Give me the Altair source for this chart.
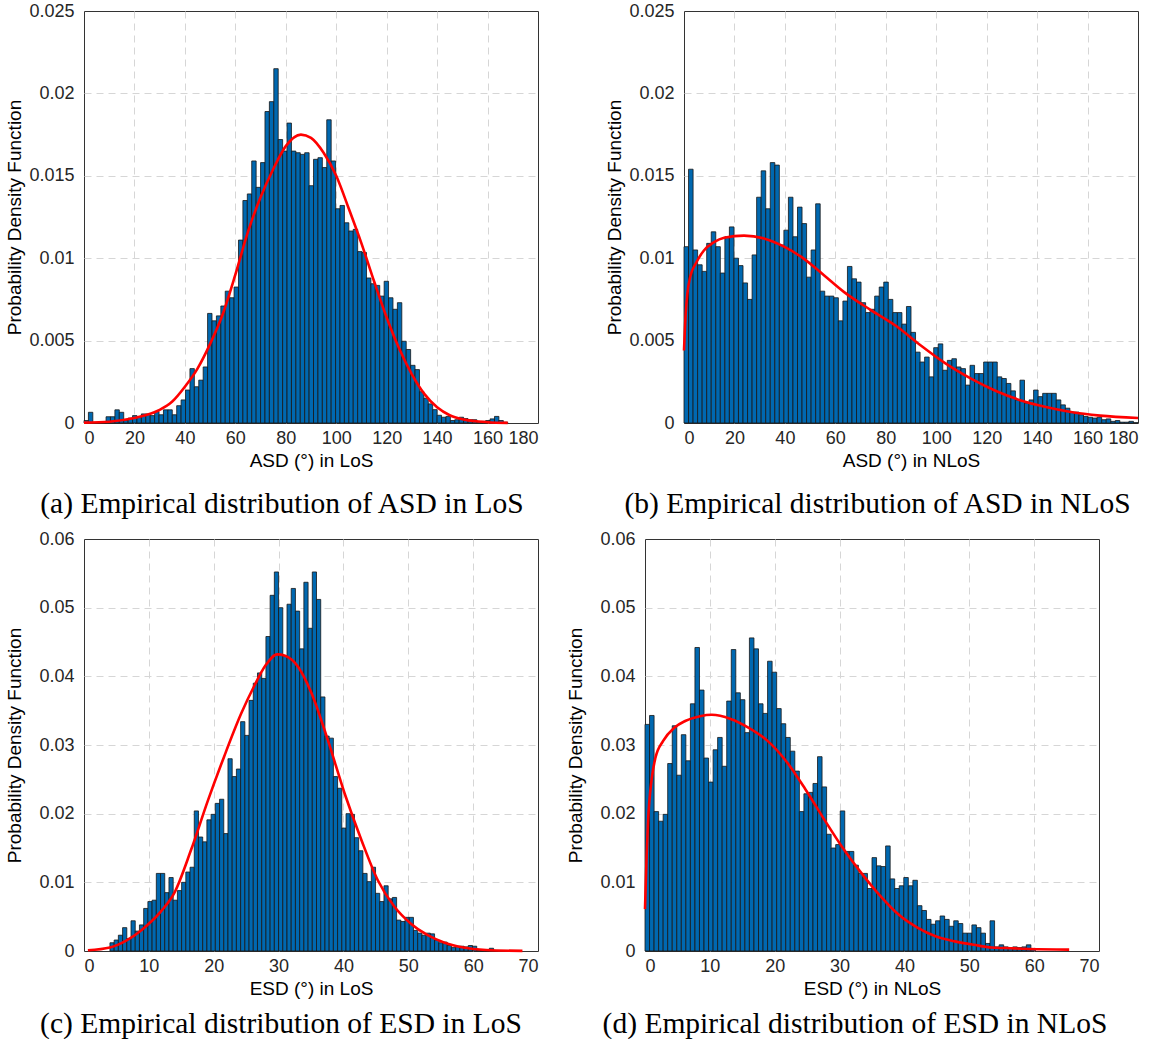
import altair as alt
import pandas as pd

# ---------------- data (pdf values are in units of 1e-3) ----------------
# (a) ASD in LoS : bins of equal width starting at A_START
A_START, A_WIDTH = 0.0, 1.75
A_PDF = [0.15, 0.65, 0, 0, 0, 0.38, 0.38, 0.8, 0.65, 0.15,
         0.3, 0.45, 0.35, 0.55, 0.55, 0.45, 0.7, 0.5, 0.8, 0.8,
         0.5, 1.05, 1.4, 2.0, 3.3, 2.2, 2.6, 3.4, 6.65, 6.2,
         6.5, 7.1, 8.0, 7.6, 8.25, 11.1, 13.5, 13.9, 15.9, 14.3,
         15.8, 18.9, 19.5, 21.5, 17.2, 16.5, 18.2, 16.5, 16.4, 16.3,
         16.4, 14.4, 16.0, 16.1, 15.5, 18.4, 15.9, 13.0, 13.2, 12.15,
         11.65, 11.75, 10.4, 10.35, 8.8, 8.45, 8.35, 7.7, 8.6, 7.6,
         6.9, 7.3, 4.96, 4.46, 3.5, 3.24, 1.9, 1.5, 1.16, 0.81,
         0.47, 0.35, 0.4, 0.15, 0.2, 0.35, 0.27, 0.2, 0.2, 0.05,
         0.1, 0.15, 0.25, 0.4, 0.15, 0.05]
A_FIT_X = [0, 10, 20, 25, 30, 35, 40, 45, 50, 55, 60, 65, 70, 75, 80, 86, 90,
           95, 100, 105, 110, 115, 120, 125, 130, 135, 140, 145, 150, 160, 168]
A_FIT_Y = [0.02, 0.08, 0.3, 0.5, 0.8, 1.3, 2.2, 3.3, 4.8, 6.6, 9.0, 11.6, 13.7,
           15.4, 16.8, 17.5, 17.3, 16.4, 15.0, 13.0, 10.9, 8.6, 6.4, 4.5, 2.95,
           1.75, 0.95, 0.47, 0.23, 0.05, 0.01]

# (b) ASD in NLoS
B_START, B_WIDTH = 0.0, 1.8
B_PDF = [10.7, 15.4, 10.5, 9.6, 9.2, 10.9, 11.6, 10.7, 9.1, 11.3,
         11.9, 10.0, 9.55, 8.5, 7.5, 10.2, 13.7, 15.3, 13.0, 15.8,
         15.65, 10.8, 11.7, 13.7, 11.3, 13.1, 12.1, 8.85, 10.5, 13.3,
         8.0, 7.7, 7.7, 7.6, 6.2, 7.4, 9.5, 8.75, 8.55, 7.3,
         6.7, 6.9, 7.7, 8.25, 8.55, 7.5, 6.7, 6.7, 6.0, 7.07,
         5.5, 4.3, 3.7, 4.0, 2.8, 4.57, 4.8, 3.2, 3.8, 3.9,
         3.4, 3.3, 2.3, 3.5, 3.0, 3.0, 3.7, 3.7, 3.7, 2.8,
         2.7, 2.4, 1.95, 1.4, 2.6, 1.2, 1.4, 2.0, 1.6, 1.8,
         1.8, 1.8, 1.4, 1.1, 0.9, 0.66, 0.66, 0.5, 0.4, 0.35,
         0.3, 0.35, 0.2, 0.25, 0.1, 0.15, 0.05, 0.05, 0.1, 0.02]
B_FIT_X = [0, 0.66, 1.3, 2.6, 4.6, 7.9, 11.9, 15.9, 23.8, 31.7, 39.7, 47.6,
           55.6, 63.5, 74.1, 84, 93.9, 103.8, 113.8, 123.7, 133.6, 143.5,
           153.4, 165, 180]
B_FIT_Y = [4.4, 6.6, 7.8, 8.95, 9.66, 10.47, 10.97, 11.24, 11.37, 11.2, 10.7,
           9.96, 8.95, 7.94, 6.85, 5.9, 4.7, 3.6, 2.69, 1.94, 1.37, 0.97, 0.67,
           0.45, 0.3]

# (c) ESD in LoS
C_START, C_WIDTH = 4.0, 0.65
C_PDF = [1.2, 1.6, 2.3, 3.4, 1.8, 4.4, 2.9, 3.8, 6.2, 7.2,
         7.4, 11.3, 11.3, 8.5, 10.7, 7.4, 8.8, 10.0, 11.5, 12.2,
         20.4, 16.6, 15.9, 19.1, 19.9, 21.5, 22.1, 17.1, 28.0, 25.4,
         26.5, 33.4, 31.4, 36.5, 39.0, 40.5, 39.7, 45.8, 51.8, 55.2,
         50.0, 43.0, 50.5, 52.8, 49.5, 44.0, 53.7, 47.0, 55.2, 51.2,
         37.0, 31.3, 31.0, 25.4, 23.7, 17.9, 20.0, 19.9, 16.5, 14.6,
         11.3, 10.1, 12.2, 8.4, 7.2, 9.5, 7.6, 7.8, 4.5, 4.3,
         4.9, 4.9, 3.0, 2.6, 2.3, 2.6, 2.5, 1.6, 1.2, 1.3,
         0.8, 0.5, 0.7, 0.7, 0.6, 0.8, 0.7, 0.1, 0.05, 0.0,
         0.4, 0.0]
C_FIT_X = [0.6, 4.0, 6.5, 8.8, 11.9, 13.95, 16.5, 19.1, 21.6, 24.2, 26.3, 28.0,
           29.8, 31.0, 33.0, 35.1, 37.6, 40.2, 42.8, 45.3, 47.9, 50.4, 53.0,
           55.6, 58.5, 62.0, 67.6]
C_FIT_Y = [0.1, 0.5, 1.5, 3.0, 5.8, 8.5, 14.7, 21.9, 28.3, 34.5, 38.7, 41.6,
           43.2, 43.0, 41.4, 37.5, 30.7, 22.9, 16.1, 10.3, 6.4, 3.98, 2.3, 1.2,
           0.5, 0.15, 0.02]

# (d) ESD in NLoS
D_START, D_WIDTH = 0.0, 0.7
D_PDF = [33.0, 34.3, 20.3, 18.9, 19.9, 27.3, 32.8, 25.6, 31.5, 27.7,
         36.0, 44.2, 38.0, 28.1, 24.6, 29.3, 31.1, 26.9, 36.4, 43.9,
         37.6, 36.6, 31.8, 45.6, 44.0, 36.0, 34.6, 42.2, 40.6, 35.3,
         33.1, 31.1, 29.1, 26.2, 20.3, 22.9, 23.1, 24.4, 28.3, 23.9,
         17.0, 15.0, 15.5, 20.4, 14.5, 14.5, 12.5, 11.3, 11.3, 9.1,
         13.6, 12.4, 12.3, 15.3, 10.5, 9.1, 9.5, 10.7, 9.5, 10.3,
         6.6, 5.9, 4.6, 3.9, 4.4, 5.1, 4.6, 3.6, 4.4, 4.0,
         2.6, 2.6, 3.8, 3.4, 2.6, 1.1, 4.4, 0.6, 0.9, 0.6,
         0.4, 0.6, 0.5, 0.6, 0.9, 0.3]
D_FIT_X = [0, 0.23, 0.46, 1.04, 1.6, 2.8, 4.5, 6.2, 8.5, 10.3, 13.2, 16.0, 18.9,
           21.8, 24.7, 27.6, 30.5, 33.4, 36.2, 39.1, 42.0, 44.9, 47.8, 50.7,
           53.5, 56.4, 59.3, 65.4]
D_FIT_Y = [6.1, 13.3, 18.7, 25.1, 28.1, 30.6, 32.5, 33.5, 34.2, 34.4, 33.8,
           32.5, 30.6, 27.6, 23.6, 19.2, 15.0, 11.3, 8.1, 5.3, 3.4, 2.1, 1.4,
           0.9, 0.5, 0.4, 0.3, 0.2]

Y_TITLE = "Probability Density Function"
BAR_FILL = "#0068B0"
BAR_EDGE = "#161616"
FIT_RED = "#FF0000"
PW, PH = 454, 412


def panel(start, width, pdf, fx, fy, xmax, xstep, ymax, ystep, xtitle,
          caption, ytitle_pad, cap_offset, cap_dx):
    n = len(pdf)
    bars_df = pd.DataFrame({
        "lo": [start + width * i for i in range(n)],
        "hi": [start + width * (i + 1) for i in range(n)],
        "pdf": [v / 1000.0 for v in pdf],
        "base": [0.0] * n,
    })
    fit_df = pd.DataFrame({"lo": fx, "pdf": [v / 1000.0 for v in fy]})
    xs = alt.Scale(domain=[0, xmax], nice=False, zero=False)
    ys = alt.Scale(domain=[0, ymax], nice=False)
    n_y = int(round(ymax / ystep))
    x_edge = "datum.value <= 0 || datum.value >= %d" % xmax
    y_edge = "datum.value <= 0 || datum.value >= %g" % (ymax - ystep / 10)
    xaxis = alt.Axis(values=list(range(0, xmax + 1, xstep)), title=xtitle,
                     labelPadding=6, titlePadding=4,
                     gridOpacity=alt.condition(x_edge, alt.value(0), alt.value(1)))
    yaxis = alt.Axis(values=[round(ystep * i, 4) for i in range(n_y + 1)],
                     format="~g", title=Y_TITLE, labelPadding=10,
                     titlePadding=ytitle_pad,
                     gridOpacity=alt.condition(y_edge, alt.value(0), alt.value(1)))
    bars = alt.Chart(bars_df).mark_rect(
        fill=BAR_FILL, stroke=BAR_EDGE, strokeWidth=0.8
    ).encode(
        x=alt.X("lo:Q", scale=xs, axis=xaxis, title=xtitle),
        x2="hi:Q",
        y=alt.Y("pdf:Q", scale=ys, axis=yaxis, title=Y_TITLE),
        y2="base:Q",
    )
    fit = alt.Chart(fit_df).mark_line(
        color=FIT_RED, strokeWidth=2.6, interpolate="monotone"
    ).encode(
        x=alt.X("lo:Q", scale=xs, title=xtitle),
        y=alt.Y("pdf:Q", scale=ys, title=Y_TITLE),
    )
    return alt.layer(bars, fit).properties(
        width=PW, height=PH,
        title=alt.TitleParams(caption, orient="bottom", anchor="middle",
                              frame="bounds", font="Liberation Serif",
                              fontSize=29.5, fontWeight="normal", color="#000",
                              offset=cap_offset, dx=cap_dx),
    )


pa = panel(A_START, A_WIDTH, A_PDF, A_FIT_X, A_FIT_Y, 180, 20, 0.025, 0.005,
           "ASD (°) in LoS", "(a) Empirical distribution of ASD in LoS", 4, 20, 10)
pb = panel(B_START, B_WIDTH, B_PDF, B_FIT_X, B_FIT_Y, 180, 20, 0.025, 0.005,
           "ASD (°) in NLoS", "(b) Empirical distribution of ASD in NLoS", 4, 20, 3)
pc = panel(C_START, C_WIDTH, C_PDF, C_FIT_X, C_FIT_Y, 70, 10, 0.06, 0.01,
           "ESD (°) in LoS", "(c) Empirical distribution of ESD in LoS", 14, 12, 9)
pd_ = panel(D_START, D_WIDTH, D_PDF, D_FIT_X, D_FIT_Y, 70, 10, 0.06, 0.01,
            "ESD (°) in NLoS", "(d) Empirical distribution of ESD in NLoS", 14, 12, 22)

row1 = alt.hconcat(pa, pb, spacing=66)
row2 = alt.hconcat(pc, pd_, spacing=27)

chart = alt.vconcat(row1, row2, spacing=10).properties(
    padding={"left": 5, "top": 1, "right": 0, "bottom": 0},
    background="white",
).configure_view(
    stroke="#333333", strokeWidth=1
).configure_axis(
    grid=True, gridColor="#d6d6d6", gridDash=[7, 5], gridWidth=1,
    domain=False, ticks=False,
    labelFont="Liberation Sans", labelFontSize=18, labelColor="#262626",
    titleFont="Liberation Sans", titleFontSize=19, titleFontWeight="normal",
    titleColor="#000000",
)

chart.save("out.html", embed_options={"renderer": "svg", "actions": False})
